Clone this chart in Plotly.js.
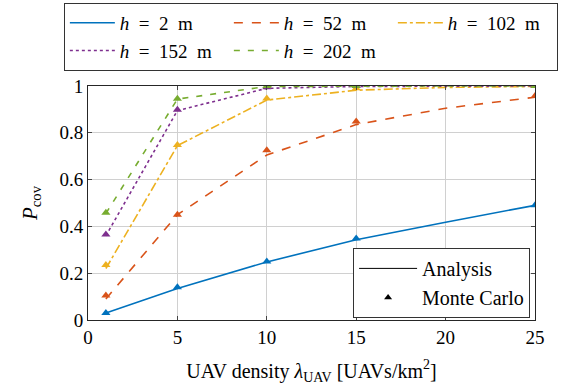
<!DOCTYPE html>
<html><head><meta charset="utf-8">
<script src="https://cdn.plot.ly/plotly-3.0.1.min.js"></script>
<style>body{margin:0;background:#fff}#c{width:568px;height:385px}</style>
</head><body><div id="c"></div>
<script>
const xLine = [1, 5, 10, 15, 20, 25];
const xMC = [1, 5, 10, 15, 25];
const heights = ['2', '52', '102', '152', '202'];
const analysis = [
  [0.03, 0.135, 0.248, 0.343, 0.418, 0.49],
  [0.09, 0.45, 0.705, 0.835, 0.905, 0.952],
  [0.22, 0.745, 0.94, 0.982, 0.994, 0.998],
  [0.36, 0.895, 0.99, 0.998, 0.999, 1.0],
  [0.455, 0.944, 0.998, 1.0, 1.0, 1.0]
];
const monteCarlo = [
  [0.03, 0.14, 0.25, 0.348, 0.49],
  [0.105, 0.45, 0.725, 0.848, 0.957],
  [0.235, 0.748, 0.947, 0.99, 1.0],
  [0.365, 0.898, 0.995, 1.0, 1.0],
  [0.458, 0.945, 1.0, 1.0, 1.0]
];
const colors = ['#0072BD', '#D95319', '#EDB120', '#7E2F8E', '#77AC30'];
const dashes = ['solid', 'dash', 'dashdot', 'dot', '6px,8px'];
const yTicks = [0, 0.2, 0.4, 0.6, 0.8, 1];
const yTickText = ['0', '0.2', '0.4', '0.6', '0.8', '1'];
const xTicks = [0, 5, 10, 15, 20, 25];

const serif = 'Liberation Serif';
const sp = '\u2002';
const traces = [];
for (let i = 0; i < heights.length; i++) {
  traces.push({
    x: xLine, y: analysis[i], mode: 'lines', type: 'scatter',
    name: '<i>h</i>' + sp + '=' + sp + heights[i] + sp + 'm',
    line: {color: colors[i], width: 1.6, dash: dashes[i]},
    legend: 'legend'
  });
  traces.push({
    x: xMC, y: monteCarlo[i], mode: 'markers', type: 'scatter',
    marker: {symbol: 'triangle-up', size: 8, color: colors[i]},
    showlegend: false
  });
}
traces.push({x: [null], y: [null], mode: 'lines', name: 'Analysis',
  line: {color: '#000', width: 1}, legend: 'legend2'});
traces.push({x: [null], y: [null], mode: 'markers', name: 'Monte Carlo',
  marker: {symbol: 'triangle-up', size: 7, color: '#000'}, legend: 'legend2'});

const layout = {
  width: 568, height: 385,
  margin: {l: 88, r: 33, t: 86, b: 65, autoexpand: false},
  paper_bgcolor: '#fff', plot_bgcolor: '#fff',
  font: {family: serif, size: 18, color: '#000'},
  xaxis: {
    range: [0, 25], tickvals: xTicks, ticks: 'inside', ticklen: 4,
    showgrid: true, gridcolor: '#d0d0d0', gridwidth: 1,
    showline: true, linecolor: '#262626', linewidth: 1, mirror: 'ticks',
    zeroline: false, tickfont: {family: serif, size: 19},
    title: {text: 'UAV density <i>λ</i><sub>UAV</sub> [UAVs/km<sup>2</sup>]', font: {family: serif, size: 20}, standoff: 18}
  },
  yaxis: {
    range: [0, 1], tickvals: yTicks, ticktext: yTickText, ticks: 'inside', ticklen: 4,
    showgrid: true, gridcolor: '#d0d0d0', gridwidth: 1,
    showline: true, linecolor: '#262626', linewidth: 1, mirror: 'ticks',
    zeroline: false, tickfont: {family: serif, size: 19},
    title: {text: '<i>P</i><sub>cov</sub>', font: {family: serif, size: 21}, standoff: 16}
  },
  legend: {
    orientation: 'h', x: -0.054, y: 1.355, xanchor: 'left', yanchor: 'top',
    bordercolor: '#333', borderwidth: 1, bgcolor: '#fff',
    itemwidth: 45, entrywidth: 104, entrywidthmode: 'pixels',
    font: {family: serif, size: 19}, tracegroupgap: 0
  },
  legend2: {
    x: 0.989, y: 0.009, xanchor: 'right', yanchor: 'bottom',
    bordercolor: '#333', borderwidth: 1, bgcolor: '#fff',
    itemwidth: 58,
    font: {family: serif, size: 20}
  },
  showlegend: true
};
Plotly.newPlot('c', traces, layout, {displayModeBar: false, staticPlot: true});
</script></body></html>
